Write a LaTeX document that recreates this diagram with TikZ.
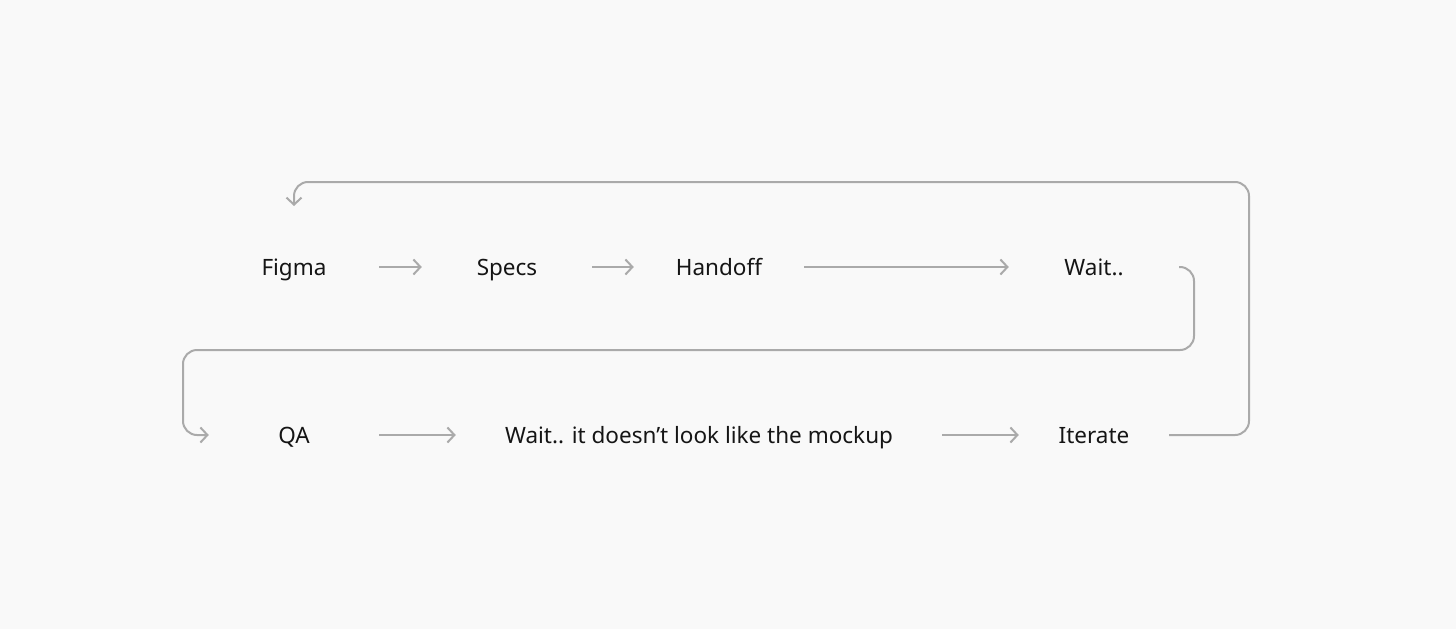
\documentclass[tikz,border=0pt]{standalone}
\usepackage{fontspec}
\setmainfont{Noto Sans}
\usetikzlibrary{arrows.meta,positioning}
\definecolor{bgcol}{HTML}{F9F9F9}
\definecolor{linecol}{HTML}{AAAAAA}
\definecolor{textcol}{HTML}{151515}
\begin{document}
\begin{tikzpicture}
        [
            x = 1pt, y = 1pt,
            stage/.style = {text = textcol, font = \fontsize{22.5}{27}\selectfont, minimum width = 170pt, inner sep = 0pt, text height = 18pt, text depth = 2pt},
            flow/.style = {draw = linecol, line width = 2pt, -{Straight Barb[length = 7pt, width = 15pt]}},
            backflow/.style = {flow, rounded corners = 14pt},
        ]

        \fill[bgcol] (0,0) rectangle (1456,-629);
        \useasboundingbox (0,0) rectangle (1456,-629);

        \node[stage] (figma) at (294,-267) {Figma};
        \node[stage] (specs) at (507,-267) {Specs};
        \node[stage] (handoff) at (719,-267) {Handoff};
        \node[stage] (wait) at (1094,-267) {Wait..};

        \node[stage] (qa) at (294,-435) {QA};
        \node[stage, minimum width = 486pt] (mockup) at (699,-435) {Wait.. it doesn’t look like the mockup};
        \node[stage, minimum width = 150pt] (iterate) at (1094,-435) {Iterate};

        \coordinate (topright) at (1249,-182);
        \coordinate (figmain) at (294,-206);
        \coordinate (waitdown) at (1194,-350);
        \coordinate (qaleft) at (183,-350);

        \draw[flow] (figma) -- (specs);
        \draw[flow] (specs) -- (handoff);
        \draw[flow] (handoff) -- (wait);
        \draw[flow] (qa) -- (mockup);
        \draw[flow] (mockup) -- (iterate);

        \draw[backflow] (wait.east) -| (waitdown) -- (qaleft) |- (qa.west);
        \draw[backflow] (iterate.east) -| (topright) -| (figmain);

    \end{tikzpicture}
\end{document}
